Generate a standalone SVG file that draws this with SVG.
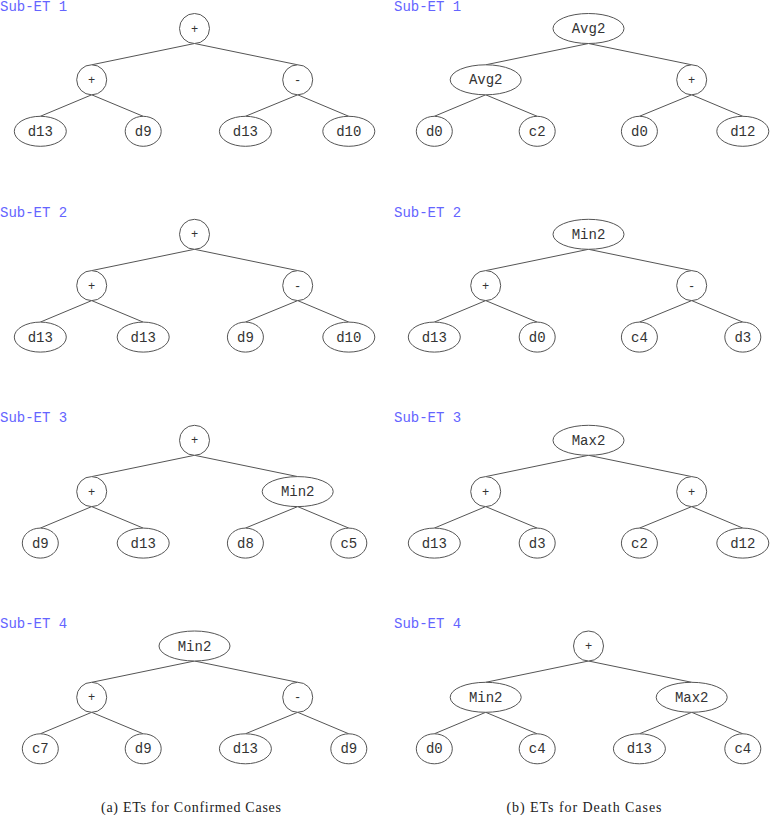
<svg xmlns="http://www.w3.org/2000/svg" width="770" height="815" viewBox="0 0 770 815">
<style>
.n ellipse{fill:#fff;stroke:#555;stroke-width:1}
.n text{font-family:"Liberation Mono","DejaVu Sans Mono",monospace;font-size:14px;fill:#333;text-anchor:middle}
.n text.op{font-size:12px}
.e line{stroke:#555;stroke-width:1}
.lbl{font-family:"Liberation Mono","DejaVu Sans Mono",monospace;font-size:14px;fill:#6464ff}
.cap{font-family:"Liberation Serif","DejaVu Serif",serif;font-size:14px;fill:#222;text-anchor:middle}
</style>
<rect width="770" height="815" fill="#fff"/>
<g id="connectors" class="e">
<!-- a row0 -->
<line x1="194.5" y1="43.5" x2="91.7" y2="64.8"/><line x1="194.5" y1="43.5" x2="297.7" y2="64.8"/>
<line x1="91.7" y1="94.8" x2="40.3" y2="116.3"/><line x1="91.7" y1="94.8" x2="143.2" y2="116.3"/>
<line x1="297.7" y1="94.8" x2="245.4" y2="116.3"/><line x1="297.7" y1="94.8" x2="348.8" y2="116.3"/>
<!-- a row1 -->
<line x1="194.5" y1="249.3" x2="91.7" y2="270.6"/><line x1="194.5" y1="249.3" x2="297.7" y2="270.6"/>
<line x1="91.7" y1="300.6" x2="40.3" y2="322.1"/><line x1="91.7" y1="300.6" x2="143.2" y2="322.1"/>
<line x1="297.7" y1="300.6" x2="245.4" y2="322.1"/><line x1="297.7" y1="300.6" x2="348.8" y2="322.1"/>
<!-- a row2 -->
<line x1="194.5" y1="455.3" x2="91.7" y2="476.6"/><line x1="194.5" y1="455.3" x2="297.7" y2="476.6"/>
<line x1="91.7" y1="506.6" x2="40.3" y2="528.1"/><line x1="91.7" y1="506.6" x2="143.2" y2="528.1"/>
<line x1="297.7" y1="506.6" x2="245.4" y2="528.1"/><line x1="297.7" y1="506.6" x2="348.8" y2="528.1"/>
<!-- a row3 -->
<line x1="194.5" y1="661" x2="91.7" y2="682.3"/><line x1="194.5" y1="661" x2="297.7" y2="682.3"/>
<line x1="91.7" y1="712.3" x2="40.3" y2="733.8"/><line x1="91.7" y1="712.3" x2="143.2" y2="733.8"/>
<line x1="297.7" y1="712.3" x2="245.4" y2="733.8"/><line x1="297.7" y1="712.3" x2="348.8" y2="733.8"/>
<!-- b row0 -->
<line x1="588.5" y1="43.5" x2="485.7" y2="64.8"/><line x1="588.5" y1="43.5" x2="691.7" y2="64.8"/>
<line x1="485.7" y1="94.8" x2="434.3" y2="116.3"/><line x1="485.7" y1="94.8" x2="537.2" y2="116.3"/>
<line x1="691.7" y1="94.8" x2="639.4" y2="116.3"/><line x1="691.7" y1="94.8" x2="742.8" y2="116.3"/>
<!-- b row1 -->
<line x1="588.5" y1="249.3" x2="485.7" y2="270.6"/><line x1="588.5" y1="249.3" x2="691.7" y2="270.6"/>
<line x1="485.7" y1="300.6" x2="434.3" y2="322.1"/><line x1="485.7" y1="300.6" x2="537.2" y2="322.1"/>
<line x1="691.7" y1="300.6" x2="639.4" y2="322.1"/><line x1="691.7" y1="300.6" x2="742.8" y2="322.1"/>
<!-- b row2 -->
<line x1="588.5" y1="455.3" x2="485.7" y2="476.6"/><line x1="588.5" y1="455.3" x2="691.7" y2="476.6"/>
<line x1="485.7" y1="506.6" x2="434.3" y2="528.1"/><line x1="485.7" y1="506.6" x2="537.2" y2="528.1"/>
<line x1="691.7" y1="506.6" x2="639.4" y2="528.1"/><line x1="691.7" y1="506.6" x2="742.8" y2="528.1"/>
<!-- b row3 -->
<line x1="588.5" y1="661" x2="485.7" y2="682.3"/><line x1="588.5" y1="661" x2="691.7" y2="682.3"/>
<line x1="485.7" y1="712.3" x2="434.3" y2="733.8"/><line x1="485.7" y1="712.3" x2="537.2" y2="733.8"/>
<line x1="691.7" y1="712.3" x2="639.4" y2="733.8"/><line x1="691.7" y1="712.3" x2="742.8" y2="733.8"/>
</g>

<text class="lbl" x="0" y="10.5">Sub-ET 1</text>
<text class="lbl" x="0" y="216.5">Sub-ET 2</text>
<text class="lbl" x="0" y="421.5">Sub-ET 3</text>
<text class="lbl" x="0" y="627.5">Sub-ET 4</text>
<text class="lbl" x="394" y="10.5">Sub-ET 1</text>
<text class="lbl" x="394" y="216.5">Sub-ET 2</text>
<text class="lbl" x="394" y="421.5">Sub-ET 3</text>
<text class="lbl" x="394" y="627.5">Sub-ET 4</text>

<!-- (a) Sub-ET 1 -->
<g id="a1_root" class="n"><ellipse cx="194.5" cy="28.5" rx="15" ry="15"/><text class="op" x="194.5" y="32.5">+</text></g>
<g id="a1_l" class="n"><ellipse cx="91.7" cy="79.8" rx="15" ry="15"/><text class="op" x="91.7" y="83.8">+</text></g>
<g id="a1_r" class="n"><ellipse cx="297.7" cy="79.8" rx="15" ry="15"/><text class="op" x="297.7" y="83.8">-</text></g>
<g id="a1_ll" class="n"><ellipse cx="40.3" cy="131.3" rx="26" ry="15"/><text x="40.3" y="135.8">d13</text></g>
<g id="a1_lr" class="n"><ellipse cx="143.2" cy="131.3" rx="18" ry="15"/><text x="143.2" y="135.8">d9</text></g>
<g id="a1_rl" class="n"><ellipse cx="245.4" cy="131.3" rx="26" ry="15"/><text x="245.4" y="135.8">d13</text></g>
<g id="a1_rr" class="n"><ellipse cx="348.8" cy="131.3" rx="26" ry="15"/><text x="348.8" y="135.8">d10</text></g>

<!-- (a) Sub-ET 2 -->
<g id="a2_root" class="n"><ellipse cx="194.5" cy="234.3" rx="15" ry="15"/><text class="op" x="194.5" y="238.3">+</text></g>
<g id="a2_l" class="n"><ellipse cx="91.7" cy="285.6" rx="15" ry="15"/><text class="op" x="91.7" y="289.6">+</text></g>
<g id="a2_r" class="n"><ellipse cx="297.7" cy="285.6" rx="15" ry="15"/><text class="op" x="297.7" y="289.6">-</text></g>
<g id="a2_ll" class="n"><ellipse cx="40.3" cy="337.1" rx="26" ry="15"/><text x="40.3" y="341.6">d13</text></g>
<g id="a2_lr" class="n"><ellipse cx="143.2" cy="337.1" rx="26" ry="15"/><text x="143.2" y="341.6">d13</text></g>
<g id="a2_rl" class="n"><ellipse cx="245.4" cy="337.1" rx="18" ry="15"/><text x="245.4" y="341.6">d9</text></g>
<g id="a2_rr" class="n"><ellipse cx="348.8" cy="337.1" rx="26" ry="15"/><text x="348.8" y="341.6">d10</text></g>

<!-- (a) Sub-ET 3 -->
<g id="a3_root" class="n"><ellipse cx="194.5" cy="440.3" rx="15" ry="15"/><text class="op" x="194.5" y="444.3">+</text></g>
<g id="a3_l" class="n"><ellipse cx="91.7" cy="491.6" rx="15" ry="15"/><text class="op" x="91.7" y="495.6">+</text></g>
<g id="a3_r" class="n"><ellipse cx="297.7" cy="491.6" rx="35.5" ry="15"/><text x="297.7" y="496.1">Min2</text></g>
<g id="a3_ll" class="n"><ellipse cx="40.3" cy="543.1" rx="18" ry="15"/><text x="40.3" y="547.6">d9</text></g>
<g id="a3_lr" class="n"><ellipse cx="143.2" cy="543.1" rx="26" ry="15"/><text x="143.2" y="547.6">d13</text></g>
<g id="a3_rl" class="n"><ellipse cx="245.4" cy="543.1" rx="18" ry="15"/><text x="245.4" y="547.6">d8</text></g>
<g id="a3_rr" class="n"><ellipse cx="348.8" cy="543.1" rx="18" ry="15"/><text x="348.8" y="547.6">c5</text></g>

<!-- (a) Sub-ET 4 -->
<g id="a4_root" class="n"><ellipse cx="194.5" cy="646" rx="35.5" ry="15"/><text x="194.5" y="650.5">Min2</text></g>
<g id="a4_l" class="n"><ellipse cx="91.7" cy="697.3" rx="15" ry="15"/><text class="op" x="91.7" y="701.3">+</text></g>
<g id="a4_r" class="n"><ellipse cx="297.7" cy="697.3" rx="15" ry="15"/><text class="op" x="297.7" y="701.3">-</text></g>
<g id="a4_ll" class="n"><ellipse cx="40.3" cy="748.8" rx="18" ry="15"/><text x="40.3" y="753.3">c7</text></g>
<g id="a4_lr" class="n"><ellipse cx="143.2" cy="748.8" rx="18" ry="15"/><text x="143.2" y="753.3">d9</text></g>
<g id="a4_rl" class="n"><ellipse cx="245.4" cy="748.8" rx="26" ry="15"/><text x="245.4" y="753.3">d13</text></g>
<g id="a4_rr" class="n"><ellipse cx="348.8" cy="748.8" rx="18" ry="15"/><text x="348.8" y="753.3">d9</text></g>

<!-- (b) Sub-ET 1 -->
<g id="b1_root" class="n"><ellipse cx="588.5" cy="28.5" rx="35.5" ry="15"/><text x="588.5" y="33">Avg2</text></g>
<g id="b1_l" class="n"><ellipse cx="485.7" cy="79.8" rx="35.5" ry="15"/><text x="485.7" y="84.3">Avg2</text></g>
<g id="b1_r" class="n"><ellipse cx="691.7" cy="79.8" rx="15" ry="15"/><text class="op" x="691.7" y="83.8">+</text></g>
<g id="b1_ll" class="n"><ellipse cx="434.3" cy="131.3" rx="18" ry="15"/><text x="434.3" y="135.8">d0</text></g>
<g id="b1_lr" class="n"><ellipse cx="537.2" cy="131.3" rx="18" ry="15"/><text x="537.2" y="135.8">c2</text></g>
<g id="b1_rl" class="n"><ellipse cx="639.4" cy="131.3" rx="18" ry="15"/><text x="639.4" y="135.8">d0</text></g>
<g id="b1_rr" class="n"><ellipse cx="742.8" cy="131.3" rx="26" ry="15"/><text x="742.8" y="135.8">d12</text></g>

<!-- (b) Sub-ET 2 -->
<g id="b2_root" class="n"><ellipse cx="588.5" cy="234.3" rx="35.5" ry="15"/><text x="588.5" y="238.8">Min2</text></g>
<g id="b2_l" class="n"><ellipse cx="485.7" cy="285.6" rx="15" ry="15"/><text class="op" x="485.7" y="289.6">+</text></g>
<g id="b2_r" class="n"><ellipse cx="691.7" cy="285.6" rx="15" ry="15"/><text class="op" x="691.7" y="289.6">-</text></g>
<g id="b2_ll" class="n"><ellipse cx="434.3" cy="337.1" rx="26" ry="15"/><text x="434.3" y="341.6">d13</text></g>
<g id="b2_lr" class="n"><ellipse cx="537.2" cy="337.1" rx="18" ry="15"/><text x="537.2" y="341.6">d0</text></g>
<g id="b2_rl" class="n"><ellipse cx="639.4" cy="337.1" rx="18" ry="15"/><text x="639.4" y="341.6">c4</text></g>
<g id="b2_rr" class="n"><ellipse cx="742.8" cy="337.1" rx="18" ry="15"/><text x="742.8" y="341.6">d3</text></g>

<!-- (b) Sub-ET 3 -->
<g id="b3_root" class="n"><ellipse cx="588.5" cy="440.3" rx="35.5" ry="15"/><text x="588.5" y="444.8">Max2</text></g>
<g id="b3_l" class="n"><ellipse cx="485.7" cy="491.6" rx="15" ry="15"/><text class="op" x="485.7" y="495.6">+</text></g>
<g id="b3_r" class="n"><ellipse cx="691.7" cy="491.6" rx="15" ry="15"/><text class="op" x="691.7" y="495.6">+</text></g>
<g id="b3_ll" class="n"><ellipse cx="434.3" cy="543.1" rx="26" ry="15"/><text x="434.3" y="547.6">d13</text></g>
<g id="b3_lr" class="n"><ellipse cx="537.2" cy="543.1" rx="18" ry="15"/><text x="537.2" y="547.6">d3</text></g>
<g id="b3_rl" class="n"><ellipse cx="639.4" cy="543.1" rx="18" ry="15"/><text x="639.4" y="547.6">c2</text></g>
<g id="b3_rr" class="n"><ellipse cx="742.8" cy="543.1" rx="26" ry="15"/><text x="742.8" y="547.6">d12</text></g>

<!-- (b) Sub-ET 4 -->
<g id="b4_root" class="n"><ellipse cx="588.5" cy="646" rx="15" ry="15"/><text class="op" x="588.5" y="650">+</text></g>
<g id="b4_l" class="n"><ellipse cx="485.7" cy="697.3" rx="35.5" ry="15"/><text x="485.7" y="701.8">Min2</text></g>
<g id="b4_r" class="n"><ellipse cx="691.7" cy="697.3" rx="35.5" ry="15"/><text x="691.7" y="701.8">Max2</text></g>
<g id="b4_ll" class="n"><ellipse cx="434.3" cy="748.8" rx="18" ry="15"/><text x="434.3" y="753.3">d0</text></g>
<g id="b4_lr" class="n"><ellipse cx="537.2" cy="748.8" rx="18" ry="15"/><text x="537.2" y="753.3">c4</text></g>
<g id="b4_rl" class="n"><ellipse cx="639.4" cy="748.8" rx="26" ry="15"/><text x="639.4" y="753.3">d13</text></g>
<g id="b4_rr" class="n"><ellipse cx="742.8" cy="748.8" rx="18" ry="15"/><text x="742.8" y="753.3">c4</text></g>

<text class="cap" x="191" y="812" textLength="180" lengthAdjust="spacing">(a) ETs for Confirmed Cases</text>
<text class="cap" x="584" y="812" textLength="155" lengthAdjust="spacing">(b) ETs for Death Cases</text>
</svg>
